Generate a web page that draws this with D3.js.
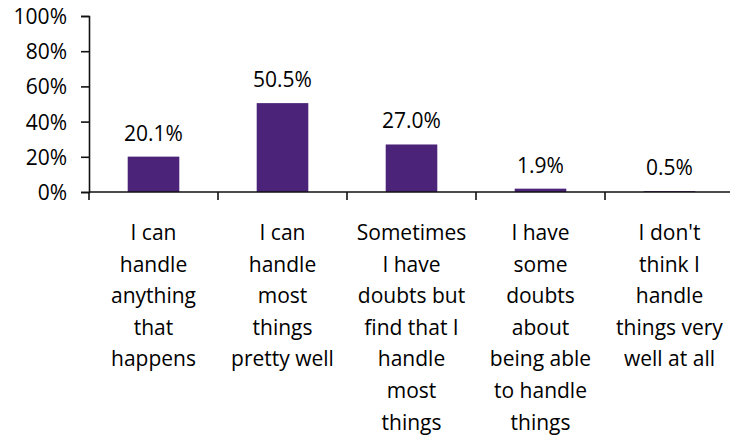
<!DOCTYPE html>
<html>
<head>
<meta charset="utf-8">
<script src="https://cdn.jsdelivr.net/npm/d3@7"></script>
<style>
  body { margin: 0; background: #fff; }
  text { font-family: "Open Sans", sans-serif; fill: #000; }
</style>
</head>
<body>
<script>
const categories = [
  'I can handle anything that happens',
  'I can handle most things pretty well',
  'Sometimes I have doubts but find that I handle most things',
  'I have some doubts about being able to handle things',
  "I don't think I handle things very well at all"
];
const labelLines = [
  ['I can', 'handle', 'anything', 'that', 'happens'],
  ['I can', 'handle', 'most', 'things', 'pretty well'],
  ['Sometimes', 'I have', 'doubts but', 'find that I', 'handle', 'most', 'things'],
  ['I have', 'some', 'doubts', 'about', 'being able', 'to handle', 'things'],
  ["I don't", 'think I', 'handle', 'things very', 'well at all']
];
const values = [20.1, 50.5, 27.0, 1.9, 0.5];
const yTicks = [0, 20, 40, 60, 80, 100];

const width = 730, height = 441;
const mLeft = 89, mTop = 16, mBottom = 192, mRight = 734;

const svg = d3.select('body').append('svg')
  .attr('width', width)
  .attr('height', height);

const x = d3.scaleBand().domain(categories).range([mLeft, mRight]).padding(0);
const y = d3.scaleLinear().domain([0, 100]).range([mBottom, mTop]);
const barW = x.bandwidth() * 0.4;

// bars
svg.selectAll('.bar')
  .data(values)
  .enter().append('rect')
  .attr('class', 'bar')
  .attr('x', (d, i) => x(categories[i]) + (x.bandwidth() - barW) / 2)
  .attr('y', d => y(d))
  .attr('width', barW)
  .attr('height', d => y(0) - y(d))
  .attr('fill', '#4b2479');

// value labels
svg.selectAll('.val')
  .data(values)
  .enter().append('text')
  .attr('class', 'val')
  .attr('x', (d, i) => x(categories[i]) + x.bandwidth() / 2)
  .attr('y', d => y(d) - 16)
  .attr('text-anchor', 'middle')
  .style('font-size', '21px')
  .text(d => d.toFixed(1) + '%');

// y axis
const yAxis = svg.append('g')
  .attr('transform', 'translate(' + mLeft + ',0)')
  .call(d3.axisLeft(y).tickValues(yTicks).tickSize(8).tickPadding(14).tickFormat(d => d + '%'));
yAxis.selectAll('text').style('font-size', '21px').attr('dy', '0.36em');

// x axis
const xAxis = svg.append('g')
  .attr('transform', 'translate(0,' + mBottom + ')');
xAxis.append('line')
  .attr('x1', mLeft).attr('x2', width)
  .attr('y1', 0).attr('y2', 0);
xAxis.selectAll('.xtick')
  .data(categories)
  .enter().append('line')
  .attr('class', 'xtick')
  .attr('x1', d => x(d)).attr('x2', d => x(d))
  .attr('y1', 0).attr('y2', 8);

svg.selectAll('.domain, .tick line, g line')
  .attr('stroke', '#111')
  .attr('stroke-width', 1.6);

// category labels
const cat = svg.selectAll('.cat')
  .data(labelLines)
  .enter().append('text')
  .attr('class', 'cat')
  .attr('text-anchor', 'middle')
  .style('font-size', '21px');
cat.selectAll('tspan')
  .data((d, i) => d.map(t => ({ t: t, i: i })))
  .enter().append('tspan')
  .attr('x', d => x(categories[d.i]) + x.bandwidth() / 2)
  .attr('y', (d, j) => 240 + j * 31.6)
  .text(d => d.t);
</script>
</body>
</html>
